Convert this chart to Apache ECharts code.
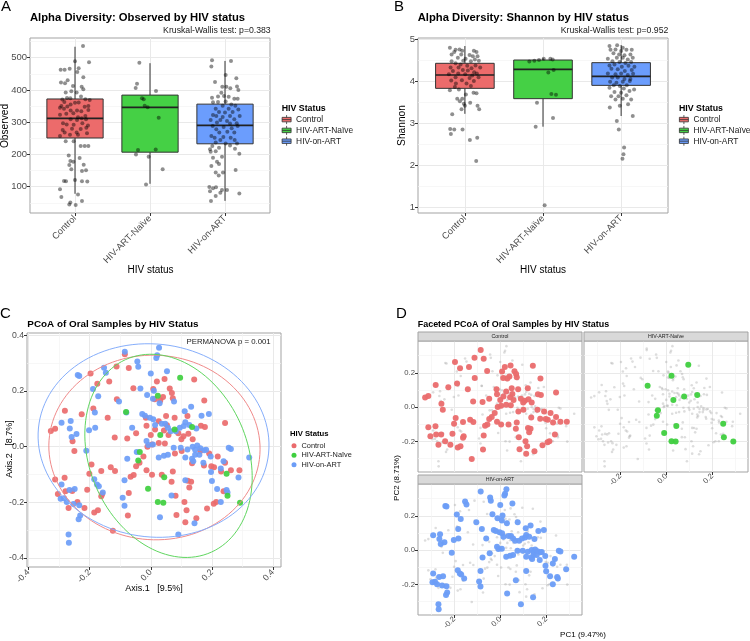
<!DOCTYPE html>
<html>
<head>
<meta charset="utf-8">
<script src="https://cdn.jsdelivr.net/npm/echarts@6/dist/echarts.min.js"></script>
<style>
  html, body { margin: 0; padding: 0; background: #fff; }
  #chart { width: 750px; height: 641px; }
</style>
</head>
<body>
<div id="chart"></div>
<script>
// ---- data ----
const groups = ["Control", "HIV-ART-Naïve", "HIV-on-ART"];

// box stats per group: [lower whisker, q1, median, q3, upper whisker]
const observedBox = [[78, 251, 312, 372, 534], [109, 207, 346, 384, 483], [56, 233, 290, 356, 490]];
const shannonBox = [[3.23, 3.835, 4.152, 4.43, 4.84], [2.924, 3.59, 4.286, 4.508, 4.55], [3.178, 3.906, 4.12, 4.445, 4.864]];

// jittered samples: [jitter, value]
const observedControl = [[0.107,536],[0.187,486],[0,489],[-0.191,463],[-0.138,463],[-0.071,466],[0.049,467],[0.031,456],[0.111,439],[-0.187,423],[-0.098,430],[-0.133,421],[-0.027,412],[0.089,410],[0.111,402],[-0.049,396],[-0.124,392],[0.022,392],[0.08,380],[-0.107,375],[-0.062,374],[-0.169,370],[0.138,371],[0.196,369],[-0.142,363],[0,360],[0.049,361],[-0.058,355],[-0.182,350],[-0.102,349],[0.129,348],[0.178,350],[-0.2,345],[-0.147,342],[-0.058,336],[0.027,336],[0.084,334],[0.178,338],[-0.022,328],[-0.116,326],[-0.2,323],[0.138,319],[0.04,315],[0.089,312],[-0.058,309],[0.027,307],[0.147,309],[-0.16,297],[-0.111,293],[-0.018,292],[0.098,297],[0.173,290],[-0.04,280],[0.076,279],[0.151,283],[-0.164,276],[-0.138,268],[0.022,268],[-0.067,261],[0.04,261],[0.16,266],[-0.2,257],[-0.124,241],[-0.018,241],[0.076,226],[0.129,226],[0.178,226],[-0.084,197],[0.062,189],[-0.062,180],[-0.022,177],[-0.076,167],[0.116,168],[-0.049,154],[0.147,151],[0.093,149],[-0.147,118],[-0.12,117],[0,121],[0.093,117],[0.164,116],[-0.2,92],[0.04,76],[-0.182,68],[0.093,56],[-0.062,51],[-0.076,45],[0.009,43]];
const observedNaive = [[-0.142,484],[-0.173,419],[-0.191,406],[0.08,397],[-0.107,374],[-0.084,371],[-0.071,351],[-0.031,346],[0.116,314],[-0.16,214],[0.076,215],[-0.187,200],[-0.018,193],[0.169,154],[-0.053,107]];
const observedOnArt = [[-0.173,492],[0.08,490],[-0.182,473],[0.009,446],[0.151,436],[-0.133,425],[-0.036,410],[0.018,410],[0.071,405],[0.16,411],[0.178,400],[-0.049,391],[-0.173,376],[-0.013,381],[-0.093,380],[0.049,379],[0.124,373],[0.169,373],[-0.16,362],[-0.093,363],[0.009,364],[0.084,355],[-0.031,351],[0.138,351],[-0.124,342],[0.049,342],[0.178,339],[-0.08,332],[0,330],[0.102,332],[-0.16,322],[-0.116,319],[-0.031,316],[0.067,319],[0.196,319],[-0.191,307],[-0.062,307],[0.027,304],[0.124,309],[-0.107,299],[0.067,296],[0.156,297],[-0.164,288],[-0.018,285],[0.089,281],[0.169,288],[-0.116,278],[-0.076,268],[0.031,270],[0.124,268],[-0.182,257],[-0.138,252],[-0.022,254],[0.076,252],[-0.062,245],[0.129,245],[-0.124,237],[0.009,234],[0.16,234],[-0.169,226],[0.067,228],[-0.2,216],[-0.08,221],[-0.191,208],[-0.124,210],[0.133,218],[-0.04,193],[0.191,202],[-0.16,190],[-0.107,177],[-0.182,164],[-0.08,170],[-0.124,144],[-0.027,144],[-0.084,135],[0.142,152],[-0.209,99],[-0.16,95],[-0.12,98],[-0.04,90],[0.027,90],[-0.2,86],[-0.062,81],[-0.124,71],[0.191,79],[-0.187,56]];

const shannonControl = [[-0.192,4.80],[-0.119,4.75],[-0.068,4.76],[-0.136,4.70],[-0.034,4.73],[0.115,4.73],[0.149,4.70],[-0.17,4.64],[-0.047,4.64],[0.06,4.63],[0.102,4.60],[0.162,4.60],[-0.09,4.56],[0.009,4.54],[0.128,4.52],[-0.17,4.48],[-0.021,4.49],[0.077,4.48],[0.179,4.49],[-0.119,4.43],[-0.055,4.40],[0.136,4.38],[0.03,4.37],[-0.183,4.33],[-0.081,4.33],[0.085,4.31],[0.196,4.33],[-0.153,4.25],[-0.026,4.27],[0.038,4.26],[0.119,4.22],[0.153,4.19],[-0.205,4.17],[-0.085,4.19],[0.004,4.17],[0.094,4.14],[-0.119,4.10],[0.06,4.08],[0.175,4.10],[-0.175,4.02],[-0.038,4.03],[0.115,4.01],[-0.115,3.95],[0.021,3.95],[-0.128,3.87],[0.077,3.89],[-0.192,3.79],[-0.077,3.81],[0.111,3.73],[0.149,3.72],[0.013,3.69],[-0.098,3.59],[-0.034,3.59],[-0.064,3.53],[0.068,3.49],[-0.013,3.47],[0.162,3.42],[0,3.42],[-0.043,3.34],[0.183,3.34],[-0.162,3.22],[-0.188,2.87],[-0.136,2.86],[-0.03,2.86],[-0.179,2.75],[0.064,2.61],[0.158,2.66],[0.145,2.11]];
const shannonNaive = [[-0.175,4.47],[-0.111,4.49],[-0.051,4.51],[0.009,4.54],[0.094,4.54],[0.124,4.52],[0.068,4.21],[0.136,4.27],[0.107,3.70],[0.166,3.68],[-0.077,3.49],[0.128,3.13],[-0.094,2.92],[0.021,1.06]];
const shannonOnArt = [[-0.149,4.84],[-0.051,4.86],[0.021,4.80],[-0.136,4.75],[-0.072,4.76],[0,4.72],[0.068,4.75],[0.136,4.75],[-0.098,4.67],[-0.026,4.64],[0.043,4.62],[0.119,4.64],[-0.17,4.54],[-0.055,4.56],[0.021,4.56],[0.085,4.52],[0.149,4.56],[-0.111,4.48],[-0.021,4.46],[0.055,4.44],[0.128,4.46],[-0.149,4.38],[-0.085,4.40],[0.009,4.35],[0.094,4.37],[0.17,4.35],[-0.124,4.30],[-0.043,4.29],[0.047,4.25],[0.136,4.27],[-0.17,4.19],[-0.072,4.17],[0,4.19],[0.085,4.15],[0.153,4.18],[-0.115,4.09],[-0.043,4.09],[0.043,4.06],[0.119,4.06],[-0.141,3.99],[-0.06,3.97],[0.021,3.99],[0.111,4.01],[-0.094,3.91],[-0.017,3.89],[0.072,3.91],[-0.149,3.85],[0.034,3.83],[0.166,3.81],[-0.085,3.75],[0,3.73],[0.107,3.77],[-0.128,3.65],[-0.034,3.65],[0.068,3.67],[-0.072,3.57],[0.021,3.59],[0.128,3.57],[-0.145,3.38],[-0.017,3.42],[0.089,3.46],[0.149,3.18],[-0.055,3.06],[-0.03,2.86],[0.038,2.43],[0.03,2.27],[0.017,2.16]];

// PCoA coordinates: [Axis.1, Axis.2]
const pcoaControl = [[-0.085,0.332],[-0.112,0.288],[-0.072,0.282],[-0.136,0.234],[-0.197,0.263],[-0.057,0.210],[-0.111,0.170],[-0.175,0.226],[-0.281,0.129],[-0.226,0.116],[-0.188,0.137],[-0.141,0.104],[-0.327,0.056],[-0.313,0.064],[-0.256,0.019],[-0.250,-0.016],[-0.118,0.033],[-0.077,0.029],[-0.048,0.048],[-0.016,0.104],[-0.014,0.075],[0.008,0.207],[0.020,0.234],[0.045,0.243],[0.062,0.209],[0.069,0.193],[0.072,0.174],[0.040,0.178],[0.031,0.166],[0.013,0.170],[0.142,0.241],[0.014,0.062],[0.000,0.042],[0.026,0.091],[0.053,0.077],[0.043,0.058],[0.058,0.042],[0.050,0.110],[0.078,0.104],[0.090,0.048],[0.120,0.110],[0.107,0.037],[0.123,0.046],[0.100,0.027],[0.137,0.027],[0.164,0.075],[0.175,0.166],[0.177,0.071],[0.243,0.085],[-0.011,0.000],[0.004,0.008],[0.026,0.013],[0.046,0.011],[-0.024,-0.035],[-0.037,-0.058],[-0.048,-0.070],[-0.056,-0.102],[-0.014,-0.085],[0.004,-0.101],[0.036,-0.101],[0.072,-0.089],[0.191,-0.025],[0.219,-0.035],[0.198,-0.070],[0.207,-0.074],[0.230,-0.089],[0.262,-0.085],[0.243,-0.058],[0.290,-0.085],[0.238,-0.160],[0.135,-0.060],[0.174,-0.068],[-0.194,-0.064],[-0.201,-0.097],[-0.162,-0.087],[-0.131,-0.074],[-0.117,-0.087],[-0.066,-0.108],[-0.282,-0.112],[-0.313,-0.118],[-0.304,-0.170],[-0.279,-0.160],[-0.257,-0.159],[-0.269,-0.220],[-0.240,-0.199],[-0.208,-0.155],[-0.159,-0.170],[-0.162,-0.178],[-0.185,-0.236],[-0.173,-0.228],[-0.217,-0.220],[-0.072,-0.166],[0.068,-0.126],[0.121,-0.122],[0.132,-0.126],[0.126,-0.147],[0.081,-0.176],[0.110,-0.199],[0.117,-0.228],[0.084,-0.245],[0.113,-0.271],[0.149,-0.257],[0.184,-0.222],[0.206,-0.205],[0.214,-0.199],[-0.124,-0.302],[-0.075,-0.247],[0.079,-0.025],[0.162,-0.016],[0.101,-0.016]];
const pcoaNaive = [[0.096,0.247],[0.023,0.183],[-0.081,0.124],[0.031,0.042],[0.078,0.062],[0.135,0.071],[-0.036,-0.019],[-0.041,-0.050],[0.044,-0.110],[-0.009,-0.151],[0.023,-0.199],[0.041,-0.201],[0.248,-0.097],[0.251,-0.176],[0.292,-0.201]];
const pcoaOnArt = [[-0.085,0.341],[0.027,0.355],[0.021,0.328],[0.018,0.318],[-0.044,0.306],[-0.041,0.287],[0.000,0.263],[0.053,0.271],[-0.153,0.283],[-0.147,0.265],[-0.239,0.257],[-0.234,0.254],[-0.189,0.207],[-0.172,0.181],[-0.104,0.162],[-0.034,0.209],[-0.012,0.185],[0.010,0.201],[0.029,0.156],[0.007,0.172],[0.076,0.162],[-0.028,0.117],[-0.003,0.104],[-0.019,0.111],[0.008,0.098],[0.014,0.078],[0.036,0.082],[0.047,0.082],[0.056,0.068],[0.065,0.055],[0.082,0.055],[0.095,0.068],[0.108,0.074],[0.113,0.088],[0.126,0.078],[0.149,0.065],[0.166,0.111],[0.190,0.117],[0.111,0.127],[0.132,0.143],[-0.292,0.086],[-0.265,0.065],[-0.259,0.035],[-0.243,0.045],[-0.183,0.123],[-0.182,0.068],[-0.202,0.059],[-0.080,0.123],[-0.061,0.068],[-0.262,0.092],[-0.211,-0.015],[-0.008,0.006],[0.007,0.008],[-0.014,0.020],[0.098,-0.004],[0.120,-0.010],[0.137,0.000],[0.145,-0.011],[0.162,-0.006],[0.175,-0.013],[0.152,0.004],[0.135,-0.043],[0.145,-0.029],[0.139,-0.052],[0.159,-0.029],[0.181,-0.011],[0.196,-0.035],[0.043,-0.033],[0.026,-0.039],[0.056,-0.029],[-0.077,-0.043],[-0.046,-0.019],[0.255,-0.004],[0.262,-0.008],[0.322,-0.039],[0.238,-0.052],[0.229,-0.078],[0.197,-0.091],[0.200,-0.123],[0.217,-0.152],[0.248,-0.156],[0.251,-0.165],[0.229,-0.199],[0.287,-0.111],[-0.292,-0.136],[-0.295,-0.187],[-0.284,-0.185],[-0.275,-0.199],[-0.266,-0.156],[-0.249,-0.152],[-0.253,-0.206],[-0.234,-0.210],[-0.231,-0.247],[-0.236,-0.261],[-0.185,-0.117],[-0.176,-0.136],[-0.170,-0.142],[-0.157,-0.165],[-0.086,-0.121],[-0.092,-0.183],[-0.086,-0.212],[0.068,-0.175],[0.113,-0.121],[0.143,-0.275],[0.030,-0.253],[0.090,-0.315],[-0.269,-0.315],[-0.268,-0.345],[0.075,-0.004],[0.172,-0.058],[0.113,-0.039]];

// 95% ellipses: [centre x, centre y, semi-major, semi-minor, angle deg]
const ellipseControl = [0.012, -0.003, 0.346, 0.331, -10];
const ellipseNaive = [0.058, -0.033, 0.374, 0.261, -72];
const ellipseOnArt = [0.009, 0.022, 0.380, 0.345, -15];

// tick values
const observedTicks = [100, 200, 300, 400, 500];
const observedMinor = [50, 150, 250, 350, 450, 550];
const shannonTicks = [1, 2, 3, 4, 5];
const shannonMinor = [1.5, 2.5, 3.5, 4.5];
const pcoaTicks = [-0.4, -0.2, 0, 0.2, 0.4];
const pcoaMinor = [-0.3, -0.1, 0.1, 0.3];
const facetTicks = [-0.2, 0, 0.2];
const facetMinor = [-0.3, -0.1, 0.1, 0.3];

// ---- styling ----
const font = "Liberation Sans, Arial, Helvetica, sans-serif";
const boxFill = ["#EC6B6B", "#45D045", "#6B9DFD"];
const dotColor = ["#EA6B6D", "#3FCF3F", "#6C9DF7"];
const ellipseColor = ["#F08A8A", "#5FD65F", "#86AEFB"];
const tickColor = "#4d4d4d";

const grid = [], xAxis = [], yAxis = [], series = [];

function addGrid(left, top, width, height) {
  grid.push({ left, top, width, height, show: true, backgroundColor: "#fff",
    borderColor: "#a3a3a3", borderWidth: 1 });
  return grid.length - 1;
}

function addAxis(list, gi, pos, min, max, major, minor, label) {
  list.push({
    type: "value", gridIndex: gi, position: pos, min, max,
    axisLine: { show: false, onZero: false },
    axisTick: { show: !!label, length: 3, customValues: major, lineStyle: { color: "#333", width: 1 } },
    axisLabel: Object.assign({ show: !!label, customValues: major, color: tickColor, fontFamily: font, margin: 3 }, label || {}),
    splitLine: { show: true, lineStyle: { color: "#e9e9e9", width: 1 } }
  });
  const idx = list.length - 1;
  if (minor) {
    list.push({
      type: "value", gridIndex: gi, position: pos === "bottom" ? "top" : "right", min, max,
      axisLine: { show: false, onZero: false },
      axisTick: { show: false, customValues: minor },
      axisLabel: { show: false, customValues: minor },
      splitLine: { show: true, lineStyle: { color: "#f4f4f4", width: 0.7 } }
    });
  }
  return idx;
}

function renderBox(params, api) {
  const g = api.value(0);
  const lo = api.coord([g, api.value(1)]);
  const q1 = api.coord([g, api.value(2)]);
  const md = api.coord([g, api.value(3)]);
  const q3 = api.coord([g, api.value(4)]);
  const hi = api.coord([g, api.value(5)]);
  const half = api.coord([g + 0.375, api.value(3)])[0] - md[0];
  const stroke = { stroke: "#333", lineWidth: 1 };
  return {
    type: "group",
    children: [
      { type: "line", shape: { x1: lo[0], y1: lo[1], x2: q1[0], y2: q1[1] }, style: stroke },
      { type: "line", shape: { x1: q3[0], y1: q3[1], x2: hi[0], y2: hi[1] }, style: stroke },
      { type: "rect", shape: { x: q3[0] - half, y: q3[1], width: 2 * half, height: q1[1] - q3[1] },
        style: { fill: boxFill[g - 1], stroke: "#333", lineWidth: 1 } },
      { type: "line", shape: { x1: md[0] - half, y1: md[1], x2: md[0] + half, y2: md[1] },
        style: { stroke: "#222", lineWidth: 1.6 } }
    ]
  };
}

function jitterData(lists) {
  const out = [];
  lists.forEach((arr, i) => arr.forEach(p => out.push([i + 1 + p[0], p[1]])));
  return out;
}

function boxPanel(gi, yMin, yMax, ticks, minor, boxes, points) {
  const xi = addAxis(xAxis, gi, "bottom", 0.4, 3.6, [1, 2, 3], null,
    { fontSize: 9.3, rotate: 45, margin: 4, formatter: v => groups[Math.round(v) - 1] });
  const yi = addAxis(yAxis, gi, "left", yMin, yMax, ticks, minor, { fontSize: 9.5 });
  groups.forEach((g, i) => {
    series.push({ type: "custom", name: g, xAxisIndex: xi, yAxisIndex: yi, silent: true, z: 2,
      renderItem: renderBox, data: [[i + 1].concat(boxes[i])] });
  });
  series.push({ type: "scatter", name: "samples", xAxisIndex: xi, yAxisIndex: yi, silent: true, z: 3,
    symbolSize: 4, itemStyle: { color: "rgba(0,0,0,0.55)" }, data: jitterData(points) });
}

// panel A and B
boxPanel(addGrid(30, 38, 240, 175), 18.4, 561.1, observedTicks, observedMinor, observedBox,
  [observedControl, observedNaive, observedOnArt]);
boxPanel(addGrid(418, 38, 250, 175), 0.874, 5.031, shannonTicks, shannonMinor, shannonBox,
  [shannonControl, shannonNaive, shannonOnArt]);

// panel C
function ellipsePath(e) {
  const [cx, cy, a, b, deg] = e;
  const th = deg * Math.PI / 180;
  const pts = [];
  for (let k = 0; k <= 120; k++) {
    const t = k / 120 * 2 * Math.PI;
    pts.push([cx + a * Math.cos(th) * Math.cos(t) - b * Math.sin(th) * Math.sin(t),
              cy + a * Math.sin(th) * Math.cos(t) + b * Math.cos(th) * Math.sin(t)]);
  }
  return pts;
}
const pcoa = [pcoaControl, pcoaNaive, pcoaOnArt];
const ellipses = [ellipseControl, ellipseNaive, ellipseOnArt];
const gC = addGrid(27, 333, 254, 234);
const cx = addAxis(xAxis, gC, "bottom", -0.405, 0.426, pcoaTicks, pcoaMinor,
  { fontSize: 8.7, rotate: 45, margin: 4, formatter: v => v.toFixed(1) });
const cy = addAxis(yAxis, gC, "left", -0.432, 0.408, pcoaTicks, pcoaMinor,
  { fontSize: 8.7, formatter: v => v.toFixed(1) });
[0, 2, 1].forEach(i => {
  series.push({ type: "scatter", name: groups[i], xAxisIndex: cx, yAxisIndex: cy, silent: true, z: 3,
    symbolSize: 6, itemStyle: { color: dotColor[i], opacity: 0.92 }, data: pcoa[i] });
});
[0, 1, 2].forEach(i => {
  series.push({ type: "line", name: "ellipse " + groups[i], xAxisIndex: cx, yAxisIndex: cy, silent: true, z: 4,
    showSymbol: false, lineStyle: { color: ellipseColor[i], width: 1 }, data: ellipsePath(ellipses[i]) });
});

// panel D (facets)
const allPoints = pcoaControl.concat(pcoaNaive, pcoaOnArt);
const facets = [
  { left: 418, top: 341, x: false, y: true },
  { left: 584, top: 341, x: true, y: false },
  { left: 418, top: 484, x: true, y: true }
];
facets.forEach((f, i) => {
  const gi = addGrid(f.left, f.top, 164, 131);
  const xi = addAxis(xAxis, gi, "bottom", -0.358, 0.356, facetTicks, facetMinor,
    f.x ? { fontSize: 7.7, rotate: 45, margin: 3, formatter: v => v.toFixed(1) } : null);
  const yi = addAxis(yAxis, gi, "left", -0.378, 0.385, facetTicks, facetMinor,
    f.y ? { fontSize: 7.7, formatter: v => v.toFixed(1) } : null);
  series.push({ type: "scatter", name: "all samples", xAxisIndex: xi, yAxisIndex: yi, silent: true, z: 2,
    symbolSize: 2.6, itemStyle: { color: "rgba(160,160,160,0.45)" }, data: allPoints });
  series.push({ type: "scatter", name: groups[i], xAxisIndex: xi, yAxisIndex: yi, silent: true, z: 3,
    symbolSize: 6, itemStyle: { color: dotColor[i], opacity: 0.95 }, data: pcoa[i] });
});

// ---- legends ----
const boxIcon = "path://M0,3H12V9H0Z M0,6H12 M6,0V3 M6,9V12";
function boxLegend(left) {
  return { left, top: 114.6, orient: "vertical", padding: 0, itemWidth: 9, itemHeight: 10, itemGap: 0.8,
    selectedMode: false, textStyle: { fontSize: 8.4, color: "#1a1a1a", fontFamily: font, lineHeight: 10 },
    data: groups.map((g, i) => ({ name: g, icon: boxIcon,
      itemStyle: { color: boxFill[i], borderColor: "#333", borderWidth: 0.8 } })) };
}
const legends = [boxLegend(281.7), boxLegend(679), {
  left: 291.5, top: 441, orient: "vertical", padding: 0, itemWidth: 5, itemHeight: 5, itemGap: 0,
  selectedMode: false, textStyle: { fontSize: 7.4, color: "#1a1a1a", fontFamily: font, lineHeight: 9.5 },
  data: groups.map((g, i) => ({ name: g, icon: "circle", itemStyle: { color: dotColor[i] } }))
}];

// ---- text ----
function txt(x, y, s, size, o) {
  o = o || {};
  return { type: "text", x, y, rotation: o.rot || 0, silent: true, z: 10,
    style: { text: s, fontSize: size, fontFamily: font, fontWeight: o.bold ? "bold" : "normal",
      fill: o.color || "#000", align: o.align || "left", verticalAlign: "middle",
      textAlign: o.align || "left", textVerticalAlign: "middle" } };
}
const strips = [[418, 332, "Control"], [584, 332, "HIV-ART-Naïve"], [418, 475, "HIV-on-ART"]];
const graphic = [
  txt(1, 7, "A", 15), txt(394, 7, "B", 15), txt(0, 314, "C", 15), txt(396, 314, "D", 15),
  txt(30, 17.5, "Alpha Diversity: Observed by HIV status", 11.25, { bold: true }),
  txt(417.7, 17.5, "Alpha Diversity: Shannon by HIV status", 11.25, { bold: true }),
  txt(270.7, 30.2, "Kruskal-Wallis test: p=0.383", 8.7, { align: "right", color: "#1a1a1a" }),
  txt(668.3, 30.2, "Kruskal-Wallis test: p=0.952", 8.7, { align: "right", color: "#1a1a1a" }),
  txt(5.5, 126, "Observed", 10.2, { align: "center", rot: Math.PI / 2 }),
  txt(402.5, 125.5, "Shannon", 10.2, { align: "center", rot: Math.PI / 2 }),
  txt(150.5, 270, "HIV status", 10, { align: "center" }),
  txt(543, 270, "HIV status", 10, { align: "center" }),
  txt(281.7, 109, "HIV Status", 8.8, { bold: true }),
  txt(679, 109, "HIV Status", 8.8, { bold: true }),
  txt(27.3, 324.5, "PCoA of Oral Samples by HIV Status", 9.9, { bold: true }),
  txt(270.7, 341.7, "PERMANOVA p = 0.001", 7.8, { align: "right", color: "#1a1a1a" }),
  txt(9.5, 449, "Axis.2   [8.7%]", 9, { align: "center", rot: Math.PI / 2 }),
  txt(154, 589, "Axis.1   [9.5%]", 9, { align: "center" }),
  txt(290, 434.3, "HIV Status", 7.7, { bold: true }),
  txt(417.7, 324.5, "Faceted PCoA of Oral Samples by HIV Status", 8.96, { bold: true }),
  txt(396.7, 478, "PC2 (8.71%)", 8, { align: "center", rot: Math.PI / 2 }),
  txt(583, 635, "PC1 (9.47%)", 8, { align: "center" })
];
strips.forEach(s => {
  graphic.push({ type: "rect", silent: true, z: 9, shape: { x: s[0], y: s[1], width: 164, height: 9 },
    style: { fill: "#d9d9d9", stroke: "#a3a3a3", lineWidth: 1 } });
  graphic.push(txt(s[0] + 82, s[1] + 4.8, s[2], 5.3, { align: "center", color: "#1a1a1a" }));
});

const chart = echarts.init(document.getElementById("chart"));
chart.setOption({
  animation: false,
  backgroundColor: "#fff",
  grid, xAxis, yAxis, series,
  legend: legends,
  graphic: { elements: graphic }
});
</script>
</body>
</html>
